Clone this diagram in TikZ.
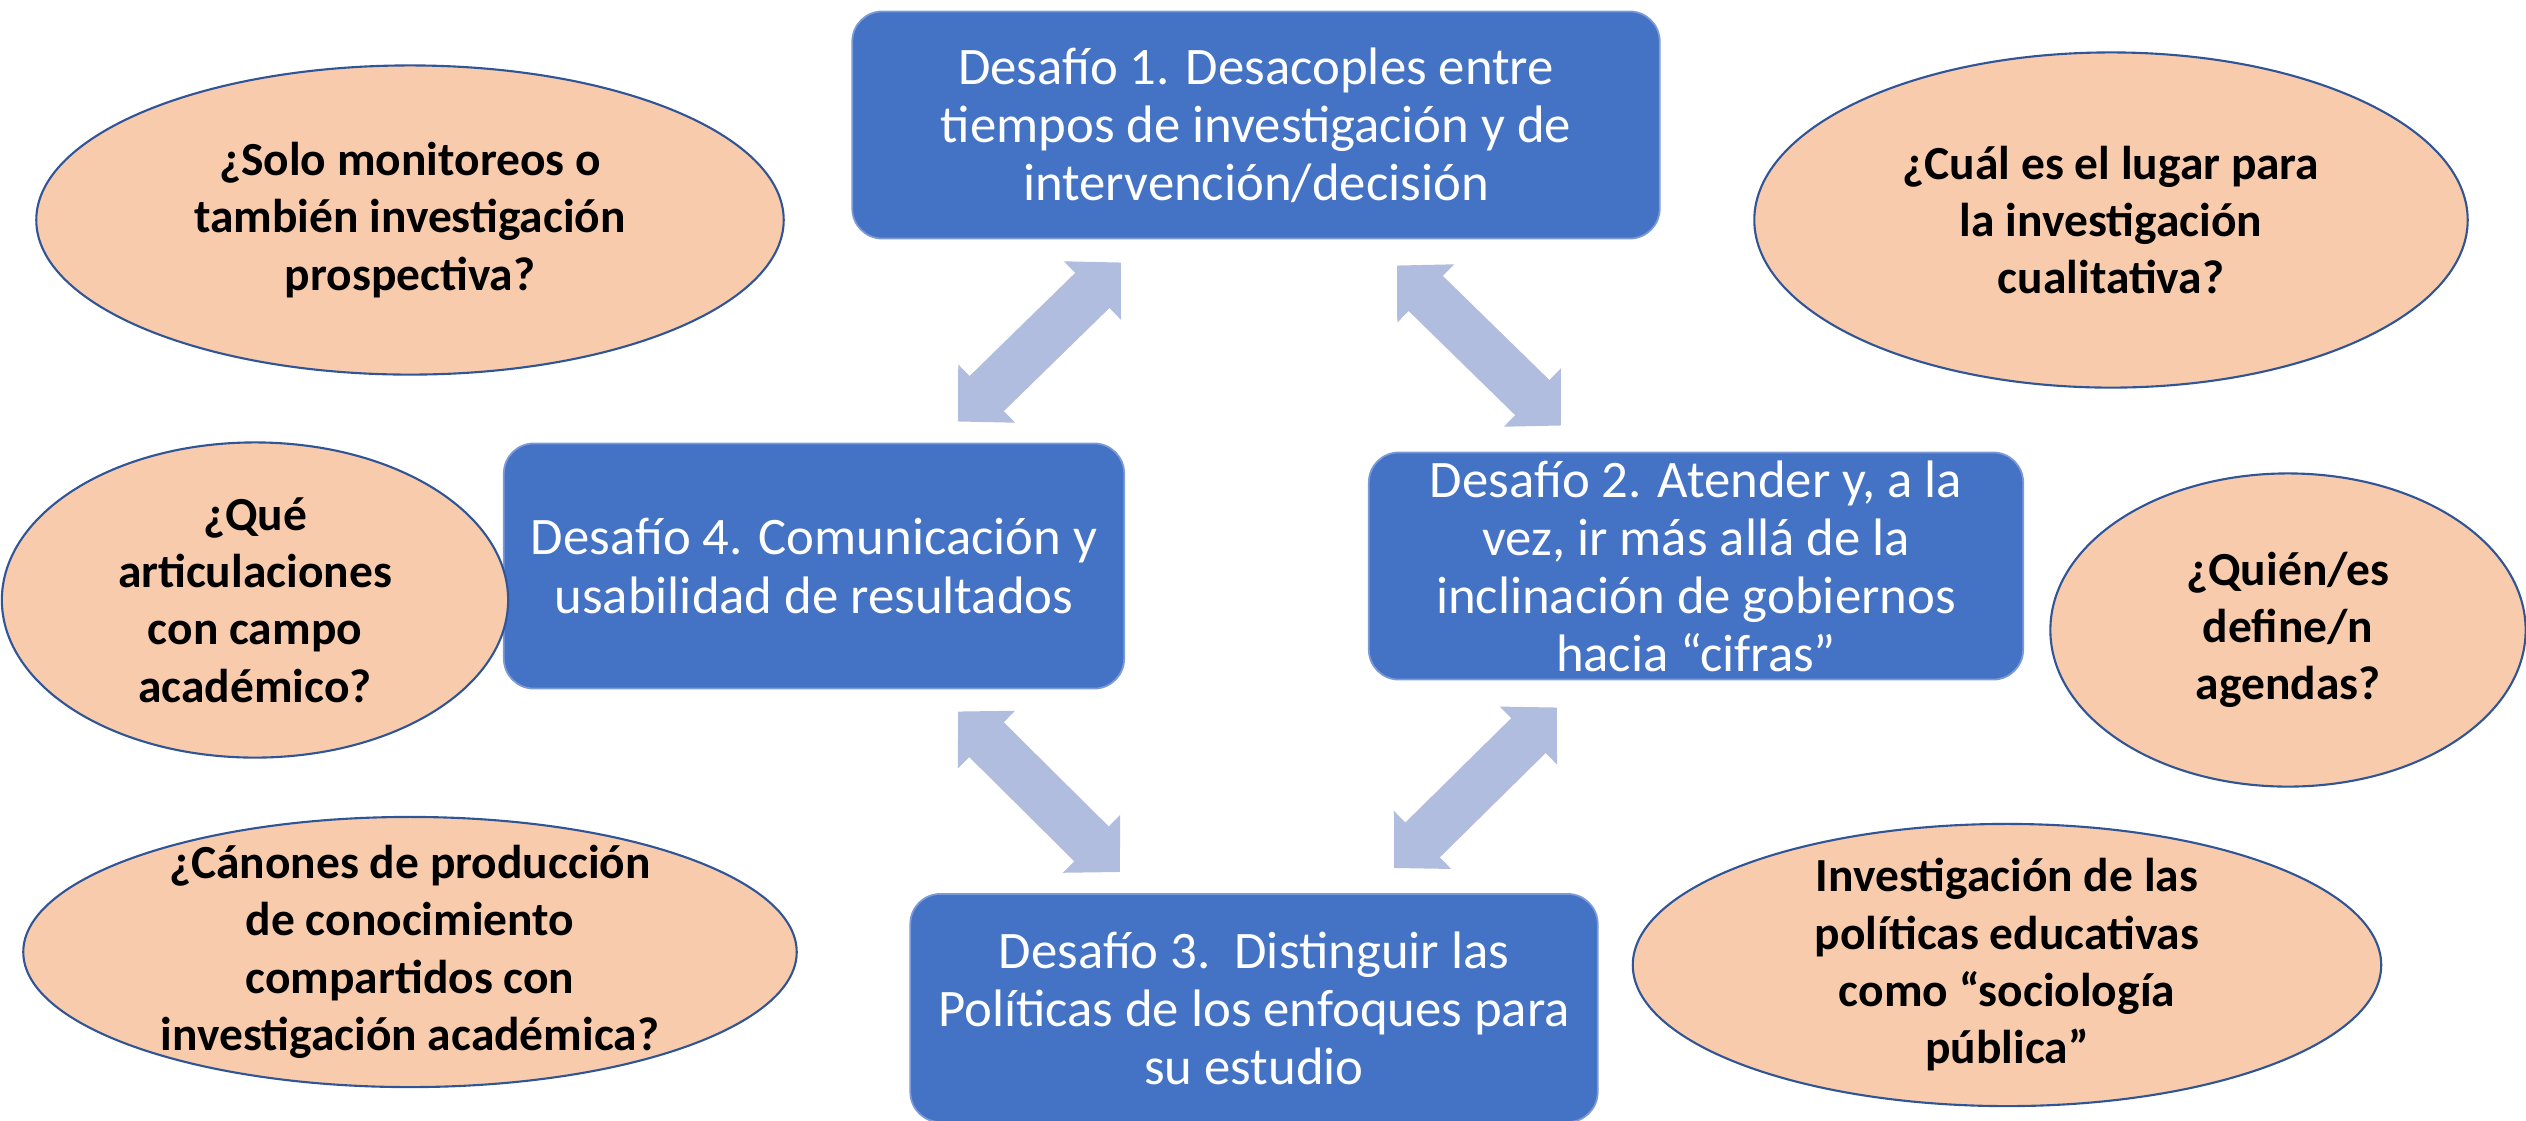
\documentclass[tikz,border=0pt]{standalone}
\usepackage{fontspec}
\setmainfont{Carlito}
\usepackage{tikz}
\usetikzlibrary{arrows.meta,shapes.geometric}
\definecolor{cajaazul}{HTML}{4472C4}
\definecolor{bordeazul}{HTML}{7C9AD6}
\definecolor{salmon}{HTML}{F8CBAD}
\definecolor{lineaelipse}{HTML}{2F5597}
\definecolor{flechagris}{HTML}{B0BDDF}

\begin{document}
\begin{tikzpicture}[x=0.01cm, y=-0.01cm,
  desafio/.style={rectangle, rounded corners=0.3cm, fill=cajaazul, draw=bordeazul, line width=0.5pt,
    text=white, align=center, inner sep=0pt, font=\fontsize{15}{16.5}\selectfont},
  pregunta/.style={ellipse, fill=salmon, draw=lineaelipse, line width=0.6pt,
    align=center, inner sep=-3cm, font=\fontsize{13.5}{16.3}\selectfont\bfseries},
  flecha/.style={draw=flechagris, line width=0.49cm,
    {Triangle[width=0.79cm,length=0.4cm]}-{Triangle[width=0.79cm,length=0.4cm]}}]
\useasboundingbox (0,0) rectangle (2526,1120);
%%%%% Desafios %%%%%
\node[desafio, minimum width=8.07cm, minimum height=2.27cm] (d1) at (1256,125)
  {Desafío 1. Desacoples entre\\tiempos de investigación y de\\intervención/decisión};
\node[desafio, minimum width=6.20cm, minimum height=2.45cm] (d4) at (814,566)
  {Desafío 4. Comunicación y\\usabilidad de resultados};
\node[desafio, minimum width=6.54cm, minimum height=2.27cm] (d2) at (1696,566)
  {Desafío 2. Atender y, a la\\vez, ir más allá de la\\inclinación de gobiernos\\hacia “cifras”};
\node[desafio, minimum width=6.87cm, minimum height=2.28cm] (d3) at (1254,1008)
  {Desafío 3.\ \ Distinguir las\\Políticas de los enfoques para\\su estudio};
%%%%% Flechas %%%%%
\draw[flecha] ([xshift=-1.35cm,yshift=-0.23cm]d1.south) -- ([xshift=1.44cm,yshift=0.21cm]d4.north);
\draw[flecha] ([xshift=1.41cm,yshift=-0.26cm]d1.south) -- ([xshift=-1.35cm,yshift=0.26cm]d2.north);
\draw[flecha] ([xshift=1.44cm,yshift=-0.22cm]d4.south) -- ([xshift=-1.34cm,yshift=0.21cm]d3.north);
\draw[flecha] ([xshift=-1.39cm,yshift=-0.27cm]d2.south) -- ([xshift=1.40cm,yshift=0.25cm]d3.north);
%%%%% Preguntas %%%%%
\node[pregunta, minimum width=7.47cm, minimum height=3.09cm] (e1) at (410,220)
  {¿Solo monitoreos o\\también investigación\\prospectiva?};
\node[pregunta, minimum width=7.13cm, minimum height=3.35cm] (e2) at (2111,220)
  {¿Cuál es el lugar para\\la investigación\\cualitativa?};
\node[pregunta, minimum width=5.06cm, minimum height=3.15cm] (e3) at (255,600)
  {¿Qué\\articulaciones\\con campo\\académico?};
\node[pregunta, minimum width=4.75cm, minimum height=3.13cm] (e4) at (2288,630)
  {¿Quién/es\\define/n\\agendas?};
\node[pregunta, minimum width=7.73cm, minimum height=2.70cm] (e5) at (410,952)
  {¿Cánones de producción\\de conocimiento\\compartidos con\\investigación académica?};
\node[pregunta, minimum width=7.48cm, minimum height=2.82cm] (e6) at (2007,965)
  {Investigación de las\\políticas educativas\\como “sociología\\pública”};
\end{tikzpicture}
\end{document}
